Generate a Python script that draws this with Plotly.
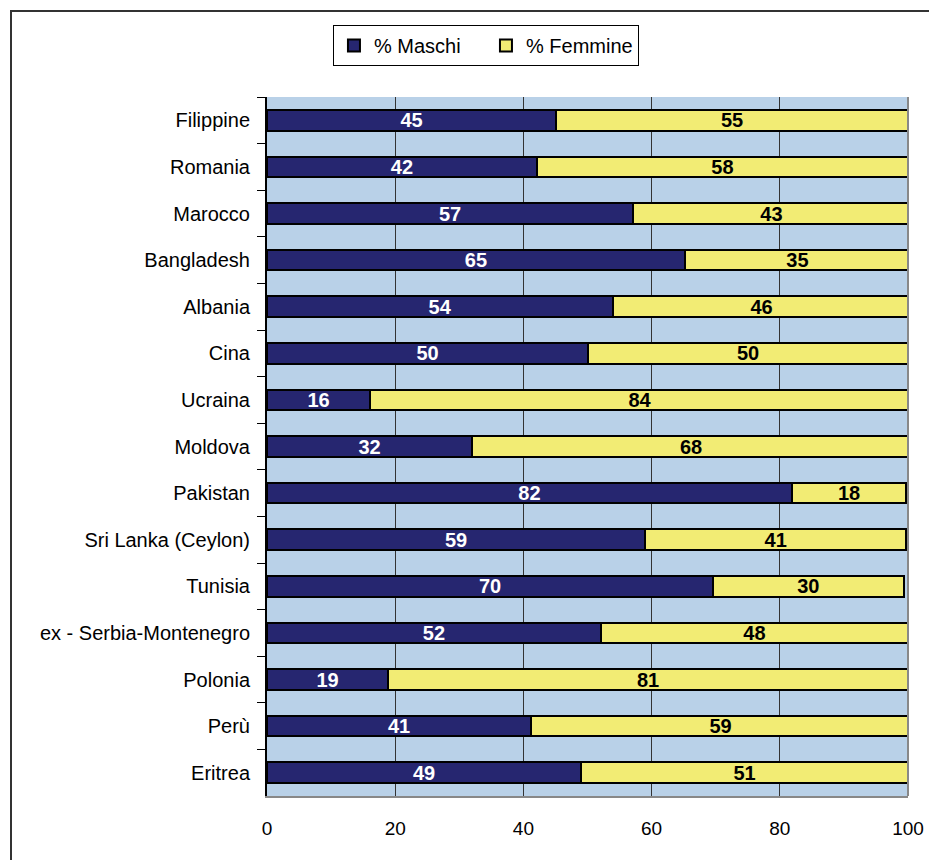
import plotly.graph_objects as go

# countries, top to bottom as in the chart
paesi = ["Filippine", "Romania", "Marocco", "Bangladesh", "Albania", "Cina", "Ucraina",
         "Moldova", "Pakistan", "Sri Lanka (Ceylon)", "Tunisia", "ex - Serbia-Montenegro",
         "Polonia", "Perù", "Eritrea"]
maschi = [45.1, 42.1, 57.1, 65.2, 54.0, 50.1, 16.1, 32.0, 81.9, 59.0, 69.6, 52.1, 18.9, 41.2, 49.0]
femmine = [54.9, 57.9, 43.2, 35.1, 46.3, 49.9, 84.2, 68.3, 17.8, 40.7, 29.7, 47.9, 81.1, 59.1, 51.0]
x_ticks = [0, 20, 40, 60, 80, 100]

NAVY = "#262670"
YELLOW = "#f2ec74"
FONT = "Liberation Sans, Arial, sans-serif"

fig = go.Figure()
fig.add_trace(go.Bar(
    y=paesi, x=maschi, orientation="h", name="% Maschi",
    marker=dict(color=NAVY, line=dict(color="black", width=2)),
    texttemplate="<b>%{x:.0f}</b>", textposition="inside", insidetextanchor="middle",
    textangle=0, constraintext="none",
    textfont=dict(color="white", size=20, family=FONT),
))
fig.add_trace(go.Bar(
    y=paesi, x=femmine, orientation="h", name="% Femmine",
    marker=dict(color=YELLOW, line=dict(color="black", width=2)),
    texttemplate="<b>%{x:.0f}</b>", textposition="inside", insidetextanchor="middle",
    textangle=0, constraintext="none",
    textfont=dict(color="black", size=20, family=FONT),
))

# outer frame and right edge of the plot area
fig.add_shape(type="rect", xref="paper", yref="paper",
              x0=(11 - 267) / 641, x1=(935 - 267) / 641,
              y0=(796 - 870) / 699, y1=(796 - 11) / 699,
              line=dict(color="#333333", width=2), layer="below")
fig.add_shape(type="line", xref="paper", yref="paper", x0=1, x1=1, y0=0, y1=1,
              line=dict(color="#888888", width=2))

fig.update_layout(
    width=929, height=860,
    margin=dict(l=267, r=21, t=97, b=64, autoexpand=False),
    barmode="stack", bargap=0.56,
    paper_bgcolor="white", plot_bgcolor="#b9d1e8",
    font=dict(family=FONT, size=20, color="black"),
    showlegend=True,
    legend=dict(orientation="h", xref="container", yref="container",
                x=0.5231, xanchor="center", y=0.971, yanchor="top",
                bordercolor="black", borderwidth=1, bgcolor="white",
                entrywidth=107, font=dict(size=20), traceorder="normal"),
    xaxis=dict(range=[0, 100], tickvals=x_ticks, showgrid=True, gridcolor="#333333",
               gridwidth=1, showline=True, linecolor="#888888", linewidth=2,
               zeroline=False, ticks="", ticklabelstandoff=14, ticklabeloverflow="allow",
               tickfont=dict(size=19)),
    yaxis=dict(autorange="reversed", showline=True, linecolor="black", linewidth=2,
               ticks="outside", tickson="boundaries", ticklen=8, tickcolor="black",
               ticklabelstandoff=11, tickfont=dict(size=20), showgrid=False),
)

# drop the default 8px body margin so the figure fills the window
fig.write_html("out.html", config={"displayModeBar": False},
               post_script="document.body.style.margin = '0px';")
